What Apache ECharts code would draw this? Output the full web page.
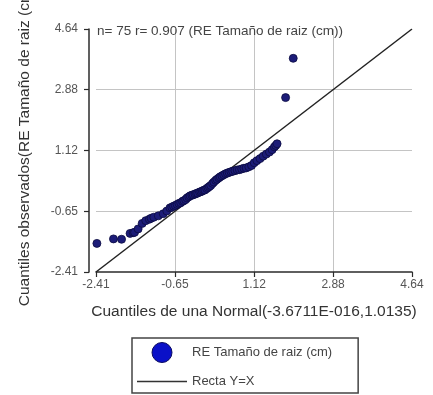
<!DOCTYPE html>
<html>

<head>
    <meta charset="utf-8">
    <script type="text/javascript" src="https://cdn.jsdelivr.net/npm/echarts@6/dist/echarts.min.js"></script>
    <title>QQ plot</title>
</head>

<body style="margin:0;background:#fff;">
    <div id="container" style="width:433px;height:395px;"></div>
    <script type="text/javascript">
    // cuantiles teoricos (eje x)
    var qTeoricos = [
        -2.39, -2.02, -1.84, -1.65, -1.58, -1.55, -1.47, -1.38, -1.30, -1.22,
        -1.18, -1.12, -1.02, -0.91, -0.83,
        -0.76, -0.72, -0.68, -0.64, -0.60, -0.56, -0.52, -0.48, -0.45, -0.41,
        -0.38, -0.34, -0.31, -0.27, -0.24, -0.20, -0.17, -0.14, -0.10, -0.07,
        -0.04, -0.01, 0.02, 0.06, 0.09, 0.12, 0.15, 0.19, 0.22, 0.26,
        0.29, 0.33, 0.36, 0.40, 0.44, 0.48, 0.52, 0.56, 0.60, 0.64,
        0.69, 0.74, 0.79, 0.84, 0.89, 0.94, 1.00, 1.06, 1.12, 1.18,
        1.25, 1.32, 1.39, 1.46, 1.52, 1.57, 1.60, 1.63,
        1.82, 1.99
    ];
    // cuantiles observados (eje y)
    var qObservados = [
        -1.58, -1.45, -1.46, -1.29, -1.27, -1.26, -1.16, -1.00, -0.92, -0.88,
        -0.85, -0.82, -0.78, -0.72, -0.64,
        -0.55, -0.53, -0.50, -0.48, -0.45, -0.42, -0.40, -0.36, -0.34, -0.31,
        -0.26, -0.23, -0.20, -0.18, -0.17, -0.15, -0.13, -0.12, -0.09, -0.08,
        -0.06, -0.04, -0.03, 0.01, 0.04, 0.07, 0.10, 0.16, 0.20, 0.25,
        0.28, 0.32, 0.35, 0.38, 0.41, 0.44, 0.46, 0.48, 0.50, 0.51,
        0.53, 0.55, 0.56, 0.58, 0.60, 0.61, 0.64, 0.68, 0.76, 0.82,
        0.88, 0.95, 1.01, 1.07, 1.14, 1.22, 1.26, 1.31,
        2.65, 3.79
    ];
    // marcas de los ejes
    var ticks = [-2.41, -0.65, 1.12, 2.88, 4.64];
    var recta = [-2.41, 4.64];

    var puntos = qTeoricos.map(function (x, i) { return [x, qObservados[i]]; });
    var lineaYX = recta.map(function (v) { return [v, v]; });

    var myChart = echarts.init(document.getElementById('container'));

    var fuente = 'Liberation Sans, Arial, sans-serif';

    var ejeBase = {
        type: 'value',
        min: ticks[0],
        max: ticks[ticks.length - 1],
        axisLine: { show: true, onZero: false, lineStyle: { color: '#2b2b2b', width: 1.5 } },
        axisTick: { show: true, length: 5, customValues: ticks, lineStyle: { color: '#2b2b2b', width: 1.2 } },
        axisLabel: {
            customValues: ticks,
            color: '#555',
            fontSize: 12,
            fontFamily: fuente,
            formatter: function (v) { return v.toFixed(2); }
        },
        splitLine: { show: true, showMinLine: false, showMaxLine: false, lineStyle: { color: '#c4c4c4', width: 1 } },
        nameTextStyle: { color: '#333', fontSize: 15.5, fontFamily: fuente }
    };

    var option = {
        animation: false,
        backgroundColor: '#fff',
        title: {
            text: 'n= 75 r= 0.907 (RE Tamaño de raiz (cm))',
            left: 92,
            top: 19,
            textStyle: { color: '#444', fontSize: 13.5, fontWeight: 'normal', fontFamily: fuente }
        },
        grid: { left: 96, right: 21, top: 29, bottom: 123, containLabel: false, outerBoundsMode: 'none' },
        legend: {
            orient: 'vertical',
            left: 132,
            top: 338,
            padding: [4, 26, 5, 5],
            itemWidth: 50,
            itemHeight: 20,
            itemGap: 12,
            borderColor: '#444',
            borderWidth: 1.5,
            textStyle: { color: '#444', fontSize: 13, fontFamily: fuente },
            data: [
                { name: 'RE Tamaño de raiz (cm)', icon: 'circle', itemStyle: { color: '#0a10c8', borderColor: '#0a0a60', borderWidth: 1 } },
                { name: 'Recta Y=X', icon: 'path://M0,0L50,0L50,1.6L0,1.6Z', itemStyle: { color: '#333', borderWidth: 0 } }
            ]
        },
        xAxis: Object.assign({}, ejeBase, {
            name: 'Cuantiles de una Normal(-3.6711E-016,1.0135)',
            nameLocation: 'middle',
            nameGap: 32,
            axisLabel: Object.assign({}, ejeBase.axisLabel, { margin: 7 })
        }),
        yAxis: Object.assign({}, ejeBase, {
            name: 'Cuantiles observados(RE Tamaño de raiz (cm))',
            nameLocation: 'middle',
            nameRotate: 90,
            nameGap: 56,
            offset: 7,
            nameTextStyle: Object.assign({}, ejeBase.nameTextStyle, { padding: [0, 0, 0, 15] }),
            axisLabel: Object.assign({}, ejeBase.axisLabel, { margin: 11 })
        }),
        series: [{
            name: 'RE Tamaño de raiz (cm)',
            type: 'scatter',
            symbolSize: 8,
            itemStyle: { color: '#1c1c78', borderColor: '#0b0b40', borderWidth: 0.8, opacity: 1 },
            data: puntos,
            z: 3
        }, {
            name: 'Recta Y=X',
            type: 'line',
            symbol: 'none',
            lineStyle: { color: '#222', width: 1.5 },
            data: lineaYX,
            z: 2
        }]
    };

    myChart.setOption(option);
    </script>
</body>

</html>
